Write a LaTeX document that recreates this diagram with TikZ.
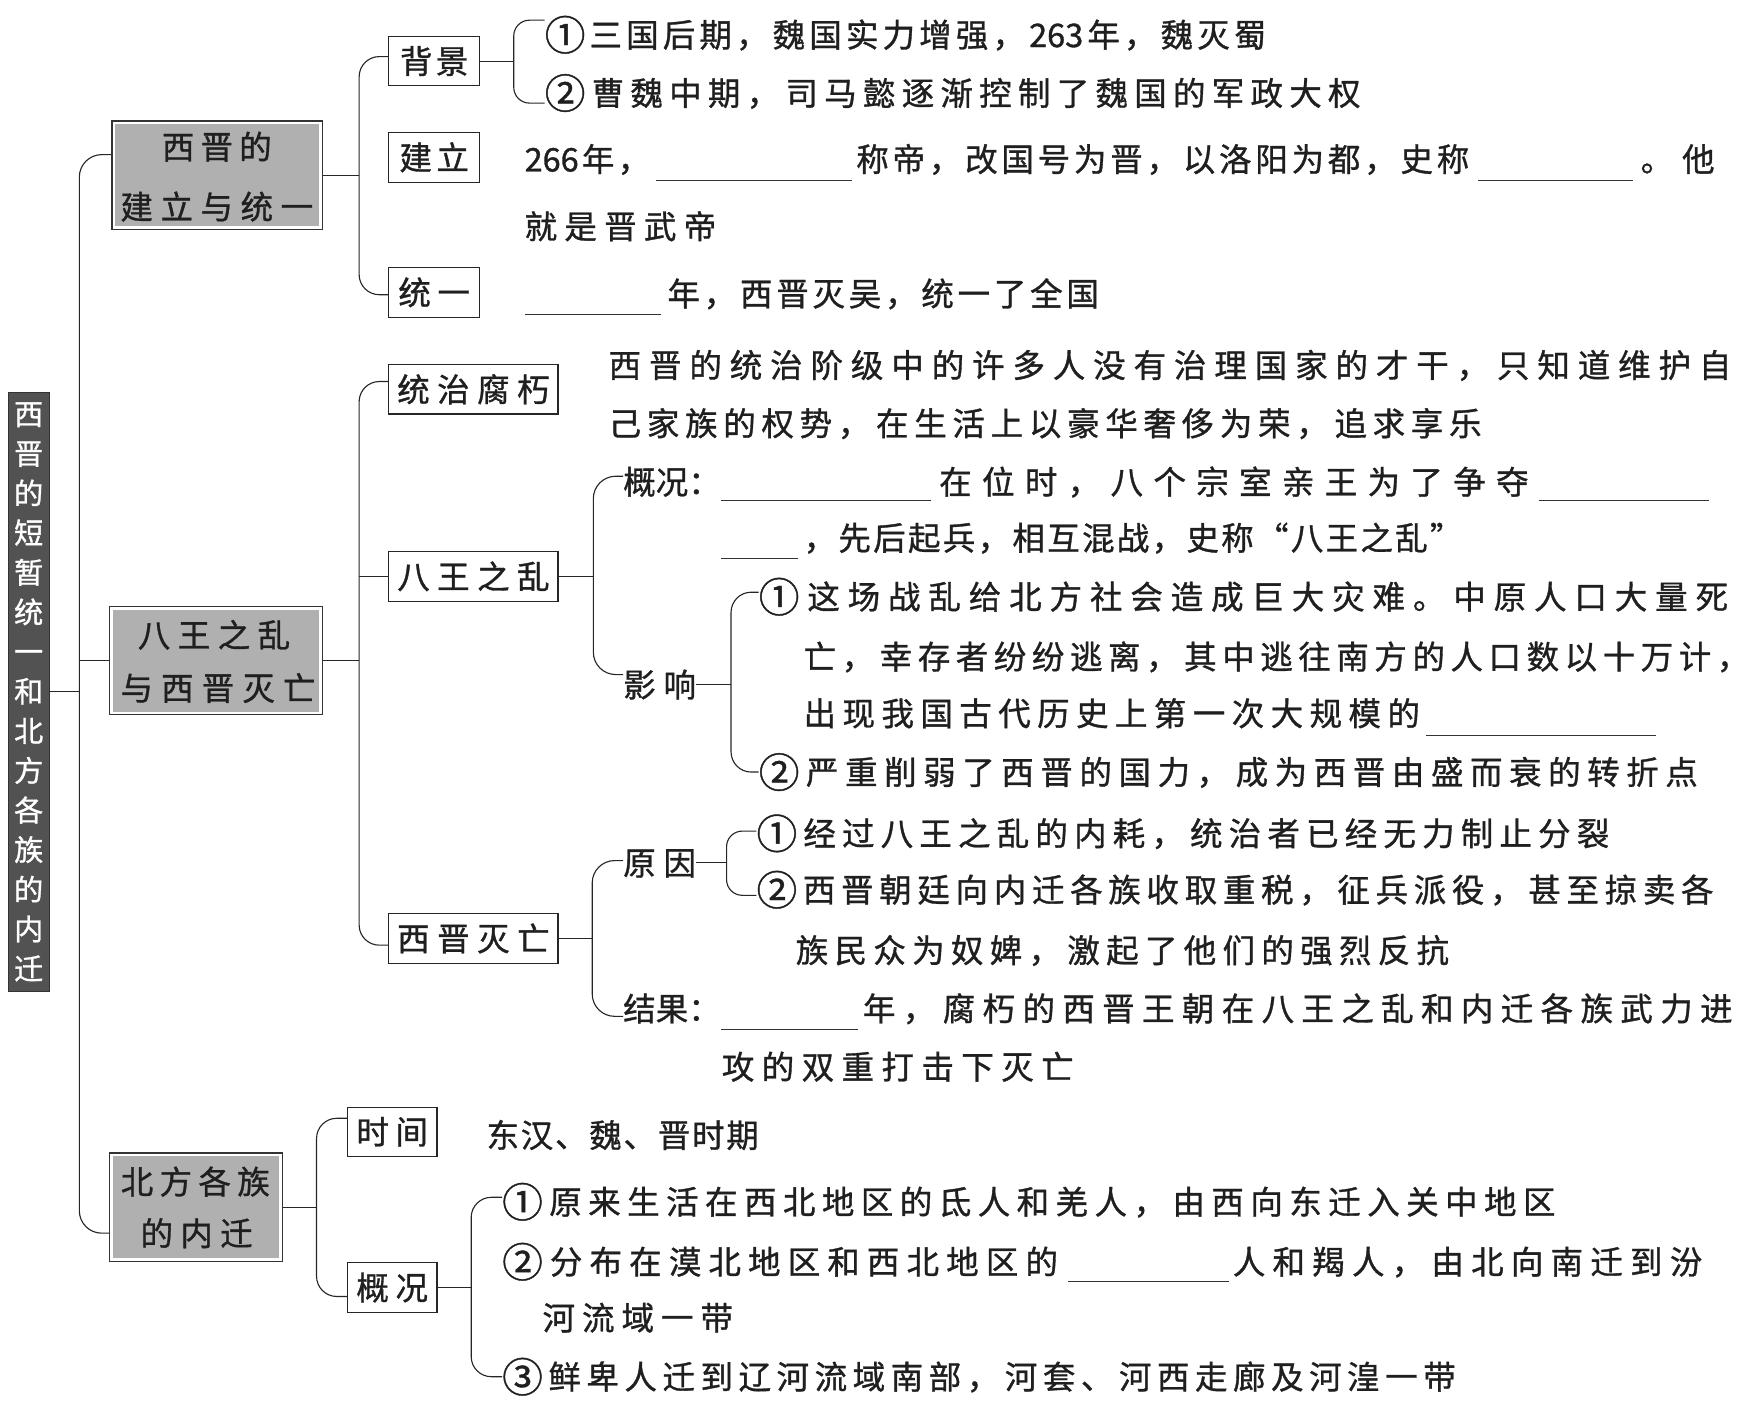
\documentclass[tikz,border=0pt]{standalone}
\usepackage{fontspec}
\usepackage{tikz}
\newfontfamily\cjk[FakeBold=1]{Noto Sans CJK SC}
\makeatletter
% spread the characters of #2 over a box #1pt wide
\newcommand\spreadtext[2]{\hbox to #1pt{\sprd@#2\relax}}
\def\sprd@#1#2{#1\ifx\relax#2\else\hfill\expandafter\sprd@\expandafter#2\fi}
\makeatother
\def\yrA{263}
\def\yrB{266}
\def\cA{\raisebox{-2.8pt}{\scalebox{1.25}{①}}}
\def\cB{\raisebox{-2.8pt}{\scalebox{1.25}{②}}}
\def\cC{\raisebox{-2.8pt}{\scalebox{1.25}{③}}}

\begin{document}
\begin{tikzpicture}[x=1pt,y=1pt,
  conn/.style={draw=black!85,line width=1pt},
  blankline/.style={draw=black!80,line width=0.9pt},
  txt/.style={inner sep=0pt,anchor=west,text=black!88,font=\cjk\fontsize{29}{35}\selectfont,text height=25.5pt,text depth=3.5pt},
  subbox/.style={draw=black!85,line width=1pt,inner sep=0pt,minimum height=44pt,text=black!88,font=\cjk\fontsize{29}{35}\selectfont,text height=25.5pt,text depth=3.5pt},
  catbox/.style={draw=black!80,line width=1pt,fill=white,inner sep=0pt,minimum height=97pt,
    path picture={\fill[gray!62] ([shift={(3pt,3pt)}]path picture bounding box.south west) rectangle ([shift={(-3pt,-3pt)}]path picture bounding box.north east);}},
  rootbox/.style={draw=black!80,fill=black!68,text=white,inner sep=0pt,minimum width=36pt,minimum height=535pt,align=center,font=\cjk\fontsize{26}{35.36}\selectfont}]
\useasboundingbox (0,0) rectangle (1568,-1268);
% root:
\node[rootbox] (root) at (25.6,-617.5) {西\\晋\\的\\短\\暂\\统\\一\\和\\北\\方\\各\\族\\的\\内\\迁};
% first level boxes:
\node[catbox,minimum width=188pt] (xj) at (194,-156.5) {};
\node[txt,anchor=center] (xj1) at (193.5,-131) {\spreadtext{98}{西晋的}};
\node[txt,anchor=center] (xj2) at (193.5,-184.5) {\spreadtext{172}{建立与统一}};
\node[catbox,minimum width=190pt] (bw) at (193,-589.5) {};
\node[txt,anchor=center] (bw1) at (191,-566.7) {\spreadtext{136}{八王之乱}};
\node[txt,anchor=center] (bw2) at (194.6,-614) {\spreadtext{174}{与西晋灭亡}};
\node[catbox,minimum width=154pt] (bf) at (175,-1077.5) {};
\node[txt,anchor=center] (bf1) at (174.3,-1054.6) {\spreadtext{133}{北方各族}};
\node[txt,anchor=center] (bf2) at (175.5,-1100.6) {\spreadtext{100}{的内迁}};
% second level boxes:
\node[subbox,minimum width=81pt] (bj) at (387.5,-54.5) {\spreadtext{61}{背景}};
\node[subbox,minimum width=81pt] (jl) at (387.5,-140.5) {\spreadtext{62}{建立}};
\node[subbox,minimum width=81pt] (ty) at (387.5,-261) {\spreadtext{64}{统一}};
\node[subbox,minimum width=151pt] (tz) at (422.5,-347.5) {\spreadtext{136}{统治腐朽}};
\node[subbox,minimum width=151pt] (bwl) at (422.5,-514.5) {\spreadtext{136}{八王之乱}};
\node[subbox,minimum width=151pt] (xm) at (422.5,-837.5) {\spreadtext{136}{西晋灭亡}};
\node[subbox,minimum width=80pt] (sj) at (350,-1010) {\spreadtext{64}{时间}};
\node[subbox,minimum width=80pt] (gk) at (350,-1149) {\spreadtext{64}{概况}};
% texts:
\node[txt] (b1) at (486,-31) {\spreadtext{644}{\cA 三国后期，魏国实力增强，\yrA 年，魏灭蜀}};
\node[txt] (b2) at (486,-83) {\spreadtext{728}{\cB 曹魏中期，司马懿逐渐控制了魏国的军政大权}};
\node[txt] (jl1) at (468,-142) {\spreadtext{112}{\yrB 年，}};
\node[txt] (jl2) at (764,-142) {\spreadtext{547}{称帝，改国号为晋，以洛阳为都，史称}};
\node[txt] (jl3) at (1464,-142) {\spreadtext{66}{。他}};
\node[txt] (jl4) at (468,-202) {\spreadtext{171}{就是晋武帝}};
\node[txt] (ty1) at (595.5,-262) {\spreadtext{385}{年，西晋灭吴，统一了全国}};
\node[txt] (tz1) at (543,-325.8) {\spreadtext{1002}{西晋的统治阶级中的许多人没有治理国家的才干，只知道维护自}};
\node[txt] (tz2) at (543,-377.8) {\spreadtext{779}{己家族的权势，在生活上以豪华奢侈为荣，追求享乐}};
\node[txt] (gk1) at (556,-430) {\spreadtext{87}{概况：}};
\node[txt] (gk2) at (838,-430) {\spreadtext{526}{在位时，八个宗室亲王为了争夺}};
\node[txt] (gk3) at (717,-480) {\spreadtext{588}{，先后起兵，相互混战，史称“八王之乱”}};
\node[txt] (yx) at (556,-611) {\spreadtext{65}{影响}};
\node[txt] (y1) at (677,-532.5) {\spreadtext{865}{\cA 这场战乱给北方社会造成巨大灾难。中原人口大量死}};
\node[txt] (y1b) at (717,-586) {\spreadtext{844}{亡，幸存者纷纷逃离，其中逃往南方的人口数以十万计，}};
\node[txt] (y1c) at (717,-636.6) {\spreadtext{550}{出现我国古代历史上第一次大规模的}};
\node[txt] (y2) at (677,-689) {\spreadtext{838}{\cB 严重削弱了西晋的国力，成为西晋由盛而衰的转折点}};
\node[txt] (yy) at (556,-770) {\spreadtext{65}{原因}};
\node[txt] (r1) at (675,-743.7) {\spreadtext{761}{\cA 经过八王之乱的内耗，统治者已经无力制止分裂}};
\node[txt] (r2) at (675,-794) {\spreadtext{854}{\cB 西晋朝廷向内迁各族收取重税，征兵派役，甚至掠卖各}};
\node[txt] (r2b) at (710,-848) {\spreadtext{583}{族民众为奴婢，激起了他们的强烈反抗}};
\node[txt] (jg) at (556,-900) {\spreadtext{87}{结果：}};
\node[txt] (jg2) at (770,-900) {\spreadtext{776}{年，腐朽的西晋王朝在八王之乱和内迁各族武力进}};
\node[txt] (jg3) at (644,-952) {\spreadtext{314}{攻的双重打击下灭亡}};
\node[txt] (sj1) at (434,-1013) {\spreadtext{243}{东汉、魏、晋时期}};
\node[txt] (g1) at (448,-1072.5) {\spreadtext{940}{\cA 原来生活在西北地区的氐人和羌人，由西向东迁入关中地区}};
\node[txt] (g2) at (448,-1126) {\spreadtext{496}{\cB 分布在漠北地区和西北地区的}};
\node[txt] (g2b) at (1100,-1126) {\spreadtext{419}{人和羯人，由北向南迁到汾}};
\node[txt] (g2c) at (484,-1176) {\spreadtext{170}{河流域一带}};
\node[txt] (g3) at (448,-1228.6) {\spreadtext{851}{\cC 鲜卑人迁到辽河流域南部，河套、河西走廊及河湟一带}};
% blanks:
\draw[blankline] (585,-161) -- (760,-161);
\draw[blankline] (1319,-161) -- (1457,-161);
\draw[blankline] (468.5,-281) -- (590,-281);
\draw[blankline] (643,-447) -- (831,-447);
\draw[blankline] (1373,-447) -- (1525,-447);
\draw[blankline] (643,-498) -- (712,-498);
\draw[blankline] (1273,-656) -- (1478,-656);
\draw[blankline] (643.5,-918.6) -- (765.7,-918.6);
\draw[blankline] (953,-1144) -- (1097,-1144);
% connectors:
\draw[conn] (root.east) -- ++(27,0) coordinate (trunk);
\draw[conn,rounded corners=20] ([yshift=18.5pt]xj.west) -| (trunk) |- ([yshift=-23pt]bf.west);
\draw[conn] (bw.west) -- (bw.west -| trunk);
\draw[conn] (xj.east) -- ++(32,0) coordinate (sA);
\draw[conn,rounded corners=18] ([yshift=4pt]bj.west) -| (sA) |- ([yshift=-2pt]ty.west);
\draw[conn] (bj.east) -- ++(30,0) coordinate (sbj);
\draw[conn,rounded corners=14] ([yshift=13pt]b1.west) -| (sbj) |- ([yshift=-9pt]b2.west);
\draw[conn] (bw.east) -- ++(32,0) coordinate (sB);
\draw[conn,rounded corners=18] ([yshift=7pt]tz.west) -| (sB) |- ([yshift=-6pt]xm.west);
\draw[conn] (bwl.west) -- (bwl.west -| sB);
\draw[conn] (bwl.east) -- ++(31,0) coordinate (sW);
\draw[conn,rounded corners=20] ([yshift=5pt]gk1.west) -| (sW) |- ([yshift=9pt]yx.west);
\draw[conn] (yx.east) -- ++(31,0) coordinate (sY);
\draw[conn,rounded corners=18] ([yshift=4pt]y1.west) -| (sY) |- (y2.west);
\draw[conn] (xm.east) -- ++(30,0) coordinate (sX);
\draw[conn,rounded corners=20] ([yshift=2pt]yy.west) -| (sX) |- ([yshift=-7pt]jg.west);
\draw[conn] (yy.east) -- ++(27,0) coordinate (sR);
\draw[conn,rounded corners=14] ([yshift=2pt]r1.west) -| (sR) |- ([yshift=-5pt]r2.west);
\draw[conn] (bf.east) -- ++(30,0) coordinate (sC);
\draw[conn,rounded corners=18] ([yshift=12pt]sj.west) -| (sC) |- ([yshift=-8pt]gk.west);
\draw[conn] (gk.east) -- ++(30,0) coordinate (sG);
\draw[conn,rounded corners=18] ([yshift=4pt]g1.west) -| (sG) |- (g3.west);
\end{tikzpicture}
\end{document}
